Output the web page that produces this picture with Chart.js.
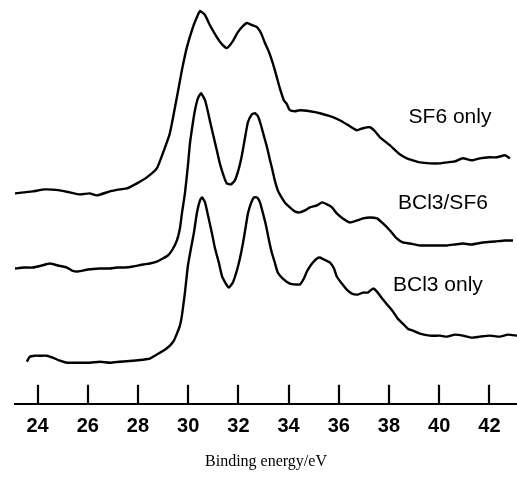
<!DOCTYPE html>
<html>
<head>
<meta charset="utf-8">
<script src="https://cdn.jsdelivr.net/npm/chart.js@4.4.0/dist/chart.umd.min.js"></script>
<style>
html,body{margin:0;padding:0;background:#fff;}
#wrap{width:517px;height:481px;position:relative;}
</style>
</head>
<body>
<div id="wrap"><canvas id="c"></canvas></div>
<script>
const xTickValues = [24, 26, 28, 30, 32, 34, 36, 38, 40, 42];
const xTitle = 'Binding energy/eV';
const seriesNames = ['SF6 only', 'BCl3/SF6', 'BCl3 only'];
const seriesLabelPos = [[40.43, 2.86], [40.15, 2.00], [39.95, 1.18]];

const sf6Energy = [23.10,23.45,23.81,24.29,24.89,25.29,25.69,26.08,26.36,26.88,27.28,27.56,27.96,28.35,28.75,28.99,29.27,29.55,29.75,29.95,30.19,30.35,30.47,30.67,30.86,31.14,31.34,31.54,31.78,31.98,32.18,32.34,32.54,32.74,32.90,33.06,33.22,33.37,33.53,33.65,33.81,33.93,34.05,34.25,34.45,34.85,35.25,35.65,36.04,36.44,36.72,36.96,37.24,37.44,37.64,38.04,38.43,38.71,38.95,39.23,39.63,40.03,40.31,40.63,40.94,41.30,41.62,42.02,42.30,42.62,42.82];
const sf6Intensity = [2.10,2.11,2.12,2.14,2.13,2.11,2.09,2.10,2.08,2.12,2.14,2.15,2.20,2.26,2.35,2.50,2.70,3.06,3.33,3.56,3.76,3.86,3.92,3.88,3.78,3.66,3.59,3.55,3.62,3.71,3.77,3.80,3.78,3.76,3.70,3.60,3.51,3.40,3.26,3.15,3.03,2.99,2.93,2.92,2.93,2.92,2.90,2.87,2.83,2.77,2.73,2.75,2.76,2.72,2.66,2.58,2.49,2.45,2.43,2.41,2.40,2.40,2.41,2.42,2.45,2.43,2.45,2.46,2.46,2.48,2.45];

const mixEnergy = [23.10,23.45,23.81,24.17,24.49,24.81,25.17,25.37,25.61,26.00,26.48,26.88,27.16,27.48,27.80,28.20,28.47,28.75,28.99,29.19,29.35,29.55,29.67,29.75,29.87,29.99,30.07,30.19,30.27,30.39,30.51,30.67,30.79,30.86,30.98,31.14,31.26,31.42,31.54,31.70,31.86,32.02,32.14,32.26,32.38,32.54,32.66,32.78,32.90,33.02,33.14,33.26,33.33,33.45,33.57,33.65,33.85,34.05,34.25,34.45,34.65,34.85,35.13,35.33,35.53,35.73,35.92,36.16,36.44,36.72,36.96,37.24,37.52,37.76,38.04,38.31,38.55,38.83,39.23,39.75,40.31,40.63,40.94,41.30,41.74,42.22,42.62,42.94];
const mixIntensity = [1.35,1.36,1.36,1.38,1.40,1.38,1.36,1.33,1.32,1.34,1.35,1.35,1.36,1.36,1.37,1.39,1.40,1.42,1.45,1.48,1.53,1.63,1.75,1.90,2.10,2.38,2.60,2.81,2.93,3.05,3.10,3.03,2.91,2.83,2.70,2.53,2.40,2.27,2.20,2.19,2.23,2.35,2.48,2.65,2.81,2.89,2.90,2.87,2.78,2.67,2.56,2.43,2.36,2.23,2.13,2.09,2.01,1.96,1.92,1.91,1.93,1.96,1.98,2.01,1.99,1.96,1.90,1.85,1.81,1.83,1.85,1.86,1.85,1.80,1.73,1.65,1.61,1.60,1.58,1.58,1.58,1.59,1.60,1.59,1.61,1.62,1.63,1.63];

const bcl3Energy = [23.57,23.69,23.89,24.09,24.37,24.61,24.89,25.17,25.49,26.08,26.48,26.88,27.28,27.80,28.20,28.47,28.67,28.87,29.07,29.27,29.43,29.55,29.67,29.75,29.87,29.99,30.11,30.23,30.35,30.47,30.55,30.67,30.79,30.94,31.06,31.22,31.34,31.50,31.62,31.78,31.94,32.06,32.18,32.30,32.38,32.50,32.62,32.74,32.86,32.98,33.10,33.22,33.33,33.45,33.57,33.77,34.05,34.33,34.45,34.61,34.73,34.85,34.97,35.13,35.25,35.41,35.65,35.81,35.92,36.12,36.32,36.52,36.76,36.96,37.16,37.36,37.52,37.76,37.96,38.16,38.35,38.55,38.75,38.95,39.23,39.63,40.03,40.31,40.63,40.94,41.30,41.62,42.02,42.42,42.74,43.10];
const bcl3Intensity = [0.42,0.47,0.48,0.48,0.48,0.46,0.43,0.41,0.41,0.41,0.42,0.41,0.42,0.43,0.44,0.45,0.48,0.51,0.54,0.58,0.63,0.70,0.78,0.88,1.11,1.38,1.55,1.71,1.91,2.03,2.06,2.01,1.88,1.71,1.56,1.41,1.28,1.20,1.16,1.21,1.33,1.45,1.60,1.78,1.90,2.00,2.06,2.06,2.01,1.90,1.78,1.63,1.51,1.41,1.31,1.25,1.20,1.19,1.19,1.25,1.32,1.37,1.41,1.45,1.46,1.44,1.41,1.35,1.27,1.20,1.14,1.10,1.09,1.11,1.11,1.15,1.12,1.04,0.98,0.92,0.85,0.80,0.75,0.73,0.70,0.68,0.68,0.67,0.69,0.68,0.66,0.67,0.68,0.67,0.69,0.68];

function pts(xs, ys){ return xs.map((x,i)=>({x:x, y:ys[i]})); }
const seriesData = [pts(sf6Energy, sf6Intensity), pts(mixEnergy, mixIntensity), pts(bcl3Energy, bcl3Intensity)];

const extras = {
  id: 'extras',
  afterDraw(chart){
    const ctx = chart.ctx, xs = chart.scales.x, ys = chart.scales.y;
    const bottom = chart.chartArea.bottom;
    ctx.save();
    ctx.strokeStyle = '#000';
    ctx.lineWidth = 2.2;
    xTickValues.forEach(v=>{
      const px = Math.round(xs.getPixelForValue(v));
      ctx.beginPath(); ctx.moveTo(px, bottom - 19); ctx.lineTo(px, bottom); ctx.stroke();
    });
    ctx.fillStyle = '#000';
    ctx.font = '21px "Liberation Sans", Arial, sans-serif';
    ctx.textAlign = 'center';
    ctx.textBaseline = 'middle';
    seriesNames.forEach((n,i)=>{
      ctx.fillText(n, xs.getPixelForValue(seriesLabelPos[i][0]), ys.getPixelForValue(seriesLabelPos[i][1]));
    });
    ctx.restore();
  }
};

new Chart(document.getElementById('c'), {
  type: 'scatter',
  data: {
    datasets: seriesData.map((d,i)=>({
      label: seriesNames[i], data: d, showLine: true, pointRadius: 0,
      borderColor: '#000', borderWidth: 2.4, tension: 0.15, fill: false
    }))
  },
  options: {
    responsive: true, maintainAspectRatio: false, animation: false,
    layout: { padding: { left: 15, right: 0, top: 0, bottom: 0 } },
    plugins: { legend: { display: false }, tooltip: { enabled: false } },
    scales: {
      y: { display: false, min: 0, max: 4.03 },
      x: {
        type: 'linear', min: 23.1, max: 43.1,
        afterBuildTicks(scale){ scale.ticks = xTickValues.map(v=>({value:v})); },
        border: { display: true, color: '#000', width: 2 },
        grid: { drawOnChartArea: false, drawTicks: false },
        ticks: {
          color: '#000', padding: 11, maxRotation: 0, autoSkip: false,
          font: { family: '"Liberation Sans", Arial, sans-serif', size: 20, weight: 'bold' },
          callback: v => String(v)
        },
        title: {
          display: true, text: xTitle, color: '#000',
          font: { family: '"Liberation Serif", "Times New Roman", serif', size: 16 },
          padding: { top: 2, bottom: 10 }
        }
      }
    }
  },
  plugins: [extras]
});
</script>
</body>
</html>
